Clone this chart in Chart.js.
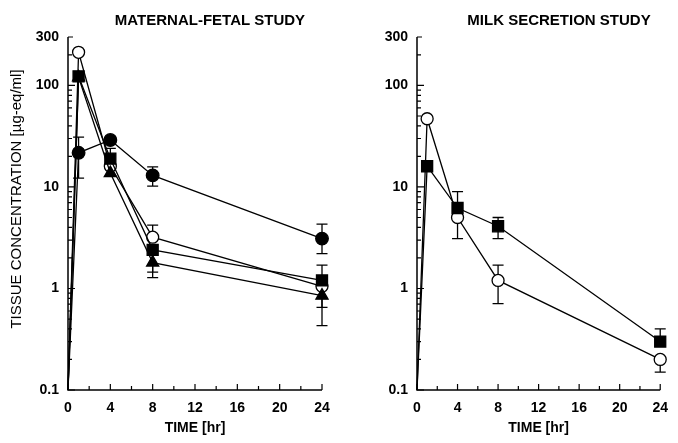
<!DOCTYPE html>
<html><head><meta charset="utf-8">
<script src="https://cdn.jsdelivr.net/npm/chart.js@4"></script>
<style>
html,body{margin:0;padding:0;background:#fff;}
#wrap{position:relative;width:678px;height:443px;background:#fff;}
canvas{position:absolute;top:0;}
</style></head><body>
<div id="wrap">
<canvas id="c1" width="340" height="443" style="left:0;width:340px;height:443px"></canvas>
<canvas id="c2" width="338" height="443" style="left:340px;width:338px;height:443px"></canvas>
</div>
<script>
// ---- data ----
const timesHr = [0, 1, 4, 8, 24];
const xTickValues = [0, 4, 8, 12, 16, 20, 24];
const yTickValues = [0.1, 1, 10, 100, 300];

// Maternal-fetal study
const mfOpenCircle      = [0.1, 212, 16, 3.2, 1.05];
const mfOpenCircleHigh  = [null, null, null, 4.2, null];
const mfOpenCircleLow   = [null, null, null, null, 0.65];
const mfSquare          = [0.1, 123, 19, 2.4, 1.2];
const mfSquareHigh      = [null, null, 24, null, 1.7];
const mfSquareLow       = [null, null, null, 1.45, null];
const mfFilledCircle    = [0.1, 21.7, 29, 13, 3.1];
const mfFilledCircleHigh= [null, 31, null, 15.8, 4.3];
const mfFilledCircleLow = [null, 12.2, null, 10.2, 2.2];
const mfTriangle        = [0.1, 120, 13.7, 1.8, 0.85];
const mfTriangleHigh    = [null, null, null, null, null];
const mfTriangleLow     = [null, null, null, 1.28, 0.43];

// Milk secretion study
const msOpenCircle      = [0.1, 47, 5.0, 1.2, 0.2];
const msOpenCircleHigh  = [null, null, null, 1.7, null];
const msOpenCircleLow   = [null, null, 3.1, 0.71, 0.15];
const msSquare          = [0.1, 16, 6.2, 4.1, 0.3];
const msSquareHigh      = [null, null, 9, 5.0, 0.4];
const msSquareLow       = [null, null, null, 3.1, null];

const titleLeft = 'MATERNAL-FETAL STUDY';
const titleRight = 'MILK SECRETION STUDY';
const xTitle = 'TIME [hr]';
const yTitle = 'TISSUE CONCENTRATION [µg-eq/ml]';

// ---- helpers ----
const FONT = "'Liberation Sans', Arial, sans-serif";
function pts(vals){ return timesHr.map((t,i)=>({x:t, y:vals[i]})); }
function ds(vals, hi, lo, style, fill, r){
  return {
    data: pts(vals), errHigh: hi, errLow: lo, clip: false,
    borderColor:'#000', borderWidth:1.3, tension:0,
    pointStyle: style, pointRadius: timesHr.map((t,i)=> i===0 ? 0 : r),
    pointBackgroundColor: fill, pointBorderColor:'#000', pointBorderWidth:1.3,
    pointHoverRadius: 0
  };
}

const decor = {
  id:'decor',
  beforeDatasetsDraw(chart){
    const {ctx, scales:{x,y}} = chart;
    ctx.save();
    ctx.strokeStyle='#000'; ctx.lineWidth=1.3;
    chart.data.datasets.forEach(d=>{
      d.data.forEach((p,i)=>{
        const px = x.getPixelForValue(p.x), py = y.getPixelForValue(p.y);
        [d.errHigh[i], d.errLow[i]].forEach(b=>{
          if(b==null) return;
          const by = y.getPixelForValue(b);
          ctx.beginPath(); ctx.moveTo(px,py); ctx.lineTo(px,by);
          ctx.moveTo(px-5.5,by); ctx.lineTo(px+5.5,by); ctx.stroke();
        });
      });
    });
    ctx.restore();
  },
  afterDraw(chart){
    const {ctx, chartArea:a, scales:{x,y}} = chart;
    const o = chart.options.plugins.decor;
    ctx.save();
    ctx.strokeStyle='#000'; ctx.lineWidth=1.5;
    ctx.beginPath();
    ctx.moveTo(a.left, a.top); ctx.lineTo(a.left, a.bottom); ctx.lineTo(a.right, a.bottom);
    ctx.stroke();
    ctx.lineWidth=1.2;
    // y ticks (log, inward)
    ctx.beginPath();
    [0.1,1,10,100].forEach(d=>{
      for(let k=1;k<=9;k++){
        const v=d*k; if(v>300.01) break;
        const py=y.getPixelForValue(v);
        const len = k===1 ? 7 : 4;
        ctx.moveTo(a.left,py); ctx.lineTo(a.left+len,py);
      }
    });
    const p300=y.getPixelForValue(300); ctx.moveTo(a.left,p300); ctx.lineTo(a.left+5,p300);
    // x ticks (inward)
    for(let t=0;t<=24;t+=2){
      const px=x.getPixelForValue(t);
      const len = t%4===0 ? 6 : 4;
      ctx.moveTo(px,a.bottom); ctx.lineTo(px,a.bottom-len);
    }
    ctx.stroke();
    // texts
    ctx.fillStyle='#000';
    ctx.textAlign='center'; ctx.textBaseline='middle';
    ctx.font = 'bold 15px '+FONT;
    ctx.fillText(o.title, a.left+142, 21);
    ctx.font = 'bold 14px '+FONT;
    ctx.fillText(xTitle, (a.left+a.right)/2, 428);
    if(o.yTitle){
      ctx.save();
      ctx.translate(17, 199); ctx.rotate(-Math.PI/2);
      ctx.font = '15px '+FONT;
      ctx.fillText(yTitle, 0, 0);
      ctx.restore();
    }
    ctx.restore();
  }
};

function makeChart(id, datasets, title, yLeft, padRight, showY){
  return new Chart(document.getElementById(id), {
    type:'line',
    data:{datasets},
    options:{
      responsive:false, animation:false, devicePixelRatio:1,
      layout:{padding:{left:0, right:padRight, top:37, bottom:0}},
      plugins:{legend:{display:false}, tooltip:{enabled:false}, decor:{title, yTitle:showY}},
      events:[],
      scales:{
        x:{type:'linear', min:0, max:24,
           afterBuildTicks(ax){ ax.ticks = xTickValues.map(v=>({value:v})); },
           afterFit(ax){ ax.height = 53; },
           grid:{display:false, drawTicks:false}, border:{display:false},
           ticks:{padding:10, color:'#000', font:{family:FONT, size:14, weight:'bold'}, maxRotation:0, autoSkip:false}},
        y:{type:'logarithmic', min:0.1, max:300,
           afterBuildTicks(ax){ ax.ticks = yTickValues.map(v=>({value:v})); },
           afterFit(ax){ ax.width = yLeft; },
           grid:{display:false, drawTicks:false}, border:{display:false},
           ticks:{padding:9, color:'#000', font:{family:FONT, size:14, weight:'bold'},
                  callback:(v)=>String(v)}}
      }
    },
    plugins:[decor]
  });
}

// first dataset is drawn on top
makeChart('c1', [
  ds(mfSquare, mfSquareHigh, mfSquareLow, 'rect', '#000', 7.8),
  ds(mfTriangle, mfTriangleHigh, mfTriangleLow, 'triangle', '#000', 7),
  ds(mfFilledCircle, mfFilledCircleHigh, mfFilledCircleLow, 'circle', '#000', 6.3),
  ds(mfOpenCircle, mfOpenCircleHigh, mfOpenCircleLow, 'circle', '#fff', 6)
], titleLeft, 68, 18, true);

makeChart('c2', [
  ds(msSquare, msSquareHigh, msSquareLow, 'rect', '#000', 7.8),
  ds(msOpenCircle, msOpenCircleHigh, msOpenCircleLow, 'circle', '#fff', 6)
], titleRight, 77, 9, false);
</script>
</body></html>
